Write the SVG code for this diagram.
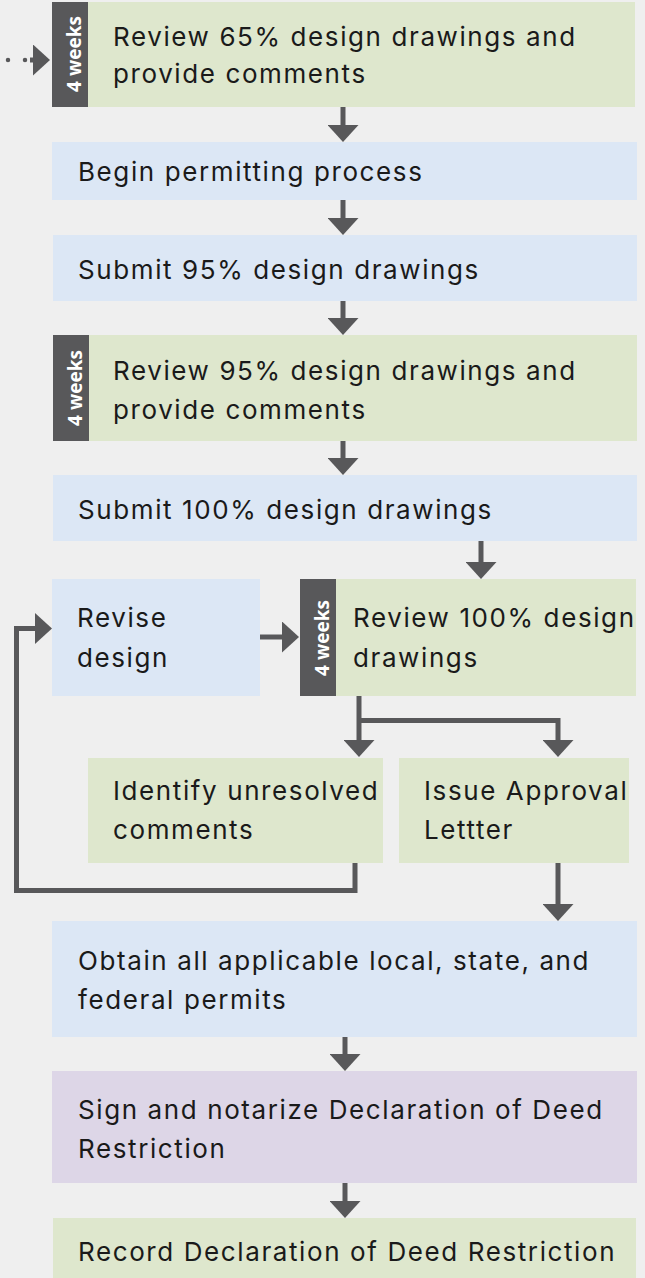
<svg xmlns="http://www.w3.org/2000/svg" width="645" height="1278" viewBox="0 0 645 1278">
<style>
.bg{fill:#efefef}
.g{fill:#dee7cd}
.b{fill:#dce7f5}
.p{fill:#ddd6e7}
.bar{fill:#58585a}
.t{font-family:Inter,"Open Sans",sans-serif;font-size:26px;letter-spacing:1.6px;fill:#1a1a1a}
.w{font-family:"Open Sans",Lato,sans-serif;font-size:19px;font-weight:700;fill:#ffffff;text-anchor:middle}
.c{fill:none;stroke:#58585a;stroke-width:5}
.dot{fill:none;stroke:#58585a;stroke-width:4.5;stroke-linecap:round;stroke-dasharray:0 17}
</style>
<defs>
<marker id="ah" viewBox="0 0 17 31" refX="2" refY="15.5" markerWidth="17" markerHeight="31" markerUnits="userSpaceOnUse" orient="auto">
<path d="M0,0 L17,15.5 L0,31 Z" fill="#58585a"/>
</marker>
</defs>
<rect class="bg" x="0" y="0" width="645" height="1278"/>

<g id="connectors">
<path class="dot" d="M8,60 H26"/>
<path class="c" d="M30,60 H35" marker-end="url(#ah)"/>
<path class="c" d="M343,107 V127" marker-end="url(#ah)"/>
<path class="c" d="M343,200 V220" marker-end="url(#ah)"/>
<path class="c" d="M343,300 V320" marker-end="url(#ah)"/>
<path class="c" d="M343,441 V460" marker-end="url(#ah)"/>
<path class="c" d="M481,541 V564" marker-end="url(#ah)"/>
<path class="c" d="M260,637 H284" marker-end="url(#ah)"/>
<path class="c" d="M359,696 V742" marker-end="url(#ah)"/>
<path class="c" d="M359,720.5 H558 V742" marker-end="url(#ah)"/>
<path class="c" d="M355,863 V890.5 H16.5 V628.5 H37" marker-end="url(#ah)"/>
<path class="c" d="M558,863 V906" marker-end="url(#ah)"/>
<path class="c" d="M345,1037 V1056" marker-end="url(#ah)"/>
<path class="c" d="M345,1183 V1203" marker-end="url(#ah)"/>
</g>

<g id="review65">
<rect class="g" x="88" y="2" width="547" height="105"/>
<rect class="bar" x="52" y="2" width="36" height="105"/>
<text class="w" transform="translate(81,54) rotate(-90)">4 weeks</text>
<text class="t" x="113" y="46">Review 65% design drawings and</text>
<text class="t" x="113" y="83">provide comments</text>
</g>

<g id="permitting">
<rect class="b" x="52" y="142" width="585" height="58"/>
<text class="t" x="78" y="181">Begin permitting process</text>
</g>

<g id="submit95">
<rect class="b" x="53" y="235" width="584" height="66"/>
<text class="t" x="78" y="279">Submit 95% design drawings</text>
</g>

<g id="review95">
<rect class="g" x="89" y="335" width="548" height="106"/>
<rect class="bar" x="53" y="335" width="36" height="106"/>
<text class="w" transform="translate(82,388) rotate(-90)">4 weeks</text>
<text class="t" x="113" y="380">Review 95% design drawings and</text>
<text class="t" x="113" y="419">provide comments</text>
</g>

<g id="submit100">
<rect class="b" x="53" y="475" width="584" height="66"/>
<text class="t" x="78" y="519">Submit 100% design drawings</text>
</g>

<g id="revise">
<rect class="b" x="52" y="579" width="208" height="117"/>
<text class="t" x="77" y="627">Revise</text>
<text class="t" x="77" y="667">design</text>
</g>

<g id="review100">
<rect class="g" x="336" y="579" width="300" height="117"/>
<rect class="bar" x="300" y="579" width="36" height="117"/>
<text class="w" transform="translate(329,638) rotate(-90)">4 weeks</text>
<text class="t" x="353" y="627">Review 100% design</text>
<text class="t" x="353" y="667">drawings</text>
</g>

<g id="identify">
<rect class="g" x="88" y="758" width="295" height="105"/>
<text class="t" x="113" y="800">Identify unresolved</text>
<text class="t" x="113" y="839">comments</text>
</g>

<g id="issue">
<rect class="g" x="399" y="758" width="230" height="105"/>
<text class="t" x="424" y="800">Issue Approval</text>
<text class="t" x="424" y="839">Lettter</text>
</g>

<g id="obtain">
<rect class="b" x="52" y="921" width="585" height="116"/>
<text class="t" x="78" y="970">Obtain all applicable local, state, and</text>
<text class="t" x="78" y="1009">federal permits</text>
</g>

<g id="sign">
<rect class="p" x="52" y="1071" width="585" height="112"/>
<text class="t" x="78" y="1119">Sign and notarize Declaration of Deed</text>
<text class="t" x="78" y="1158">Restriction</text>
</g>

<g id="record">
<rect class="g" x="53" y="1218" width="583" height="60"/>
<text class="t" x="78" y="1261">Record Declaration of Deed Restriction</text>
</g>
</svg>
